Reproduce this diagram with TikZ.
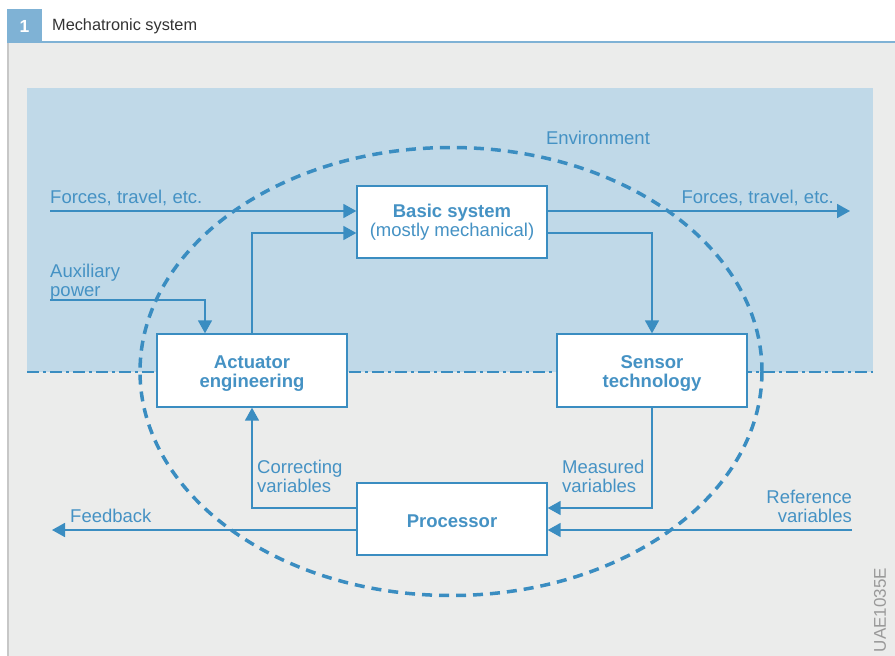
\documentclass[tikz,border=0pt]{standalone}
\usepackage{fontspec}
\setmainfont{Liberation Sans}
\usetikzlibrary{arrows.meta}
\definecolor{lineblue}{HTML}{3A8DC1}
\definecolor{txtblue}{HTML}{4592C4}
\definecolor{envblue}{HTML}{C0D9E8}
\definecolor{bggray}{HTML}{EBECEB}
\definecolor{hdrblue}{HTML}{7FB2D5}
\newcommand\twolines[3]{\raisebox{#1}[\height][\depth]{\begin{tabular}{@{}c@{}}#2\\#3\end{tabular}}}
\tikzset{
  blk/.style={draw=lineblue, line width=1.4pt, fill=white, minimum width=190pt, minimum height=72pt, inner sep=0pt, align=center, text=txtblue, font=\fontsize{18.5}{19}\selectfont\bfseries},
  lbl/.style={text=txtblue, inner sep=0pt, align=left, font=\fontsize{18.5}{19}\selectfont},
  conn/.style={draw=lineblue, line width=1.8pt, -{Triangle[length=13pt,width=14pt]}},
}
\begin{document}
\begin{tikzpicture}[x=1pt,y=-1pt]
\useasboundingbox (0,0) rectangle (895,656);
\fill[white] (0,0) rectangle (895,656);
% gray area and header
\fill[bggray] (8,42) rectangle (895,656);
\draw[black!22, line width=2pt] (8,42) -- (8,656);
\fill[hdrblue] (7,9) rectangle (42,43);
\draw[hdrblue, line width=2pt] (7,42) -- (895,42);
\node[text=white, font=\fontsize{17.5}{19}\selectfont\bfseries] (num) at (24.5,26) {1};
\node[anchor=west, inner sep=0pt, text=black!80, font=\fontsize{16.3}{18}\selectfont] (title) at (52,26) {Mechatronic system};
% environment region
\fill[envblue] (27,88) rectangle (873,372);
\draw[lineblue, line width=1.5pt, dash pattern=on 12pt off 4pt on 3pt off 4pt] (27,372) -- (873,372);
\draw[lineblue, line width=3.5pt, dash pattern=on 10pt off 7pt] (451,371.5) ellipse [x radius=311, y radius=224];
\node[lbl, anchor=base] (env) at (598,144) {Environment};
% boxes
\node[blk] (basic) at (452,222) {\twolines{-1.5pt}{Basic system}{\mdseries(mostly mechanical)}};
\node[blk, minimum height=73pt] (act) at (252,370.5) {\twolines{-4pt}{Actuator}{engineering}};
\node[blk, minimum height=73pt] (sens) at (652,370.5) {\twolines{-4pt}{Sensor}{technology}};
\node[blk] (proc) at (452,519) {\raisebox{-2pt}[\height][\depth]{Processor}};
% free ends
\coordinate (fin) at (50,211);
\coordinate (fout) at (850,211);
\coordinate (aux) at (50,300);
\coordinate (ref) at (852,530);
\coordinate (fb) at (52,530);
% connectors
\draw[conn] (fin) -- (basic.west |- fin);
\draw[conn] (basic.east |- fin) -- (fout);
\draw[conn] (act.north) |- (basic.west |- 0,233);
\draw[conn] (basic.east |- 0,233) -| (sens.north);
\draw[conn] (aux) -| (act.north -| 205,0);
\draw[conn] (sens.south) |- (proc.east |- 0,508);
\draw[conn] (proc.west |- 0,508) -| (act.south);
\draw[conn] (ref) -- (proc.east |- ref);
\draw[conn] (proc.west |- fb) -- (fb);
% labels
\node[lbl, anchor=base west] (lfin) at (50,203) {Forces, travel, etc.};
\node[lbl, anchor=base east] (lfout) at (834,203) {Forces, travel, etc.};
\node[lbl, anchor=base west] (laux1) at (50,277) {Auxiliary};
\node[lbl, anchor=base west] (laux2) at (50,296) {power};
\node[lbl, anchor=base west] (lcor1) at (257,473) {Correcting};
\node[lbl, anchor=base west] (lcor2) at (257,492) {variables};
\node[lbl, anchor=base west] (lmea1) at (562,473) {Measured};
\node[lbl, anchor=base west] (lmea2) at (562,492) {variables};
\node[lbl, anchor=base east] (lref1) at (852,503) {Reference};
\node[lbl, anchor=base east] (lref2) at (852,522) {variables};
\node[lbl, anchor=base west] (lfb) at (70,522) {Feedback};
\node[rotate=90, text=black!40, inner sep=0pt, font=\fontsize{17}{19}\selectfont] (code) at (880,610) {UAE1035E};
\end{tikzpicture}
\end{document}
